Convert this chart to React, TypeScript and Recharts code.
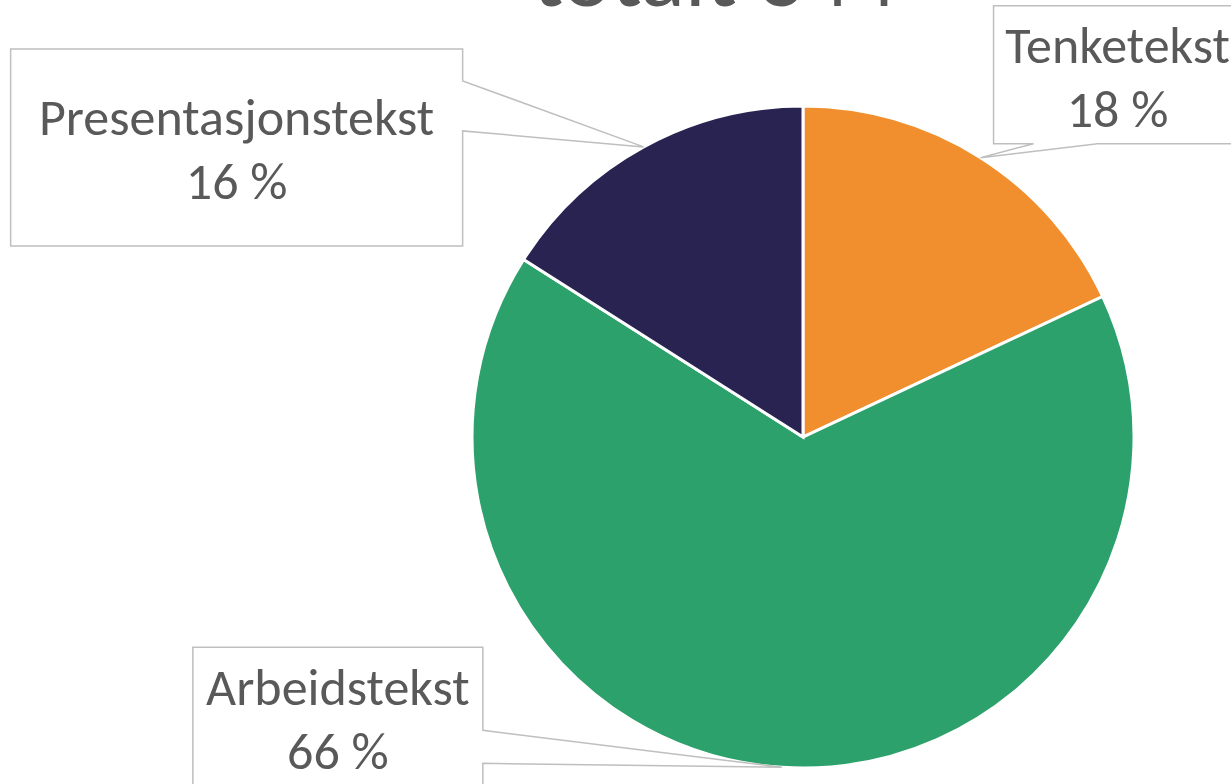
import React from "react";
import { PieChart, Pie, Cell } from "recharts";

const categories = ["Tenketekst", "Arbeidstekst", "Presentasjonstekst"];
const counts = [62, 227, 55];
const colors = ["#F18F2F", "#2CA16B", "#292352"];
const titleText = "totalt 344";

const data = categories.map((name, i) => ({ name, value: counts[i] }));

// Callout box layout relative to the tip point on the pie edge
const calloutLayout = [
  { dx: 13, dy: -152, w: 248, h: 138, side: "bottom", b1: 53, b2: 117 },
  { dx: -589, dy: -120, w: 290, h: 140, side: "right", b1: -37, b2: -4 },
  { dx: -633, dy: -98, w: 452, h: 197, side: "right", b1: -66, b2: -16 },
];

const RADIAN = Math.PI / 180;
const FONT = "Calibri, Carlito, Lato, 'Open Sans', sans-serif";

const renderLabel = (props: any) => {
  const { cx, cy, midAngle, outerRadius, index, name, percent } = props;
  const tx = cx + outerRadius * Math.cos(-midAngle * RADIAN);
  const ty = cy + outerRadius * Math.sin(-midAngle * RADIAN);
  const L = calloutLayout[index];
  const x0 = tx + L.dx;
  const y0 = ty + L.dy;
  const x1 = x0 + L.w;
  const y1 = y0 + L.h;
  let d = "";
  if (L.side === "bottom") {
    const a = tx + L.b1;
    const b = tx + L.b2;
    d = `M${x0},${y0} L${x1},${y0} L${x1},${y1} L${b},${y1} L${tx},${ty} L${a},${y1} L${x0},${y1} Z`;
  } else {
    const a = ty + L.b1;
    const b = ty + L.b2;
    d = `M${x0},${y0} L${x1},${y0} L${x1},${a} L${tx},${ty} L${x1},${b} L${x1},${y1} L${x0},${y1} Z`;
  }
  const mx = (x0 + x1) / 2;
  const my = (y0 + y1) / 2;
  return (
    <g key={`lbl-${index}`}>
      <path d={d} fill="#ffffff" stroke="#BFBFBF" strokeWidth={1.5} />
      <text
        x={mx}
        y={my - 12}
        textAnchor="middle"
        fill="#595959"
        fontFamily={FONT}
        fontSize={52}
      >
        {name}
      </text>
      <text
        x={mx}
        y={my + 52}
        textAnchor="middle"
        fill="#595959"
        fontFamily={FONT}
        fontSize={52}
      >
        {`${Math.round(percent * 100)} %`}
      </text>
    </g>
  );
};

export default function App() {
  return (
    <div style={{ position: "absolute", left: 0, top: 0, width: 1231, height: 784, background: "#fff" }}>
      <PieChart width={1231} height={784} margin={{ top: 0, right: 0, bottom: 0, left: 0 }}>
        <text
          x={715}
          y={6}
          textAnchor="middle"
          fill="#595959"
          fontFamily={FONT}
          fontSize={92}
        >
          {titleText}
        </text>
        <Pie
          data={data}
          dataKey="value"
          nameKey="name"
          cx={803}
          cy={437}
          outerRadius={331}
          startAngle={90}
          endAngle={-270}
          stroke="#ffffff"
          strokeWidth={3}
          labelLine={false}
          label={renderLabel}
          isAnimationActive={false}
        >
          {data.map((d, i) => (
            <Cell key={d.name} fill={colors[i]} />
          ))}
        </Pie>
      </PieChart>
    </div>
  );
}
